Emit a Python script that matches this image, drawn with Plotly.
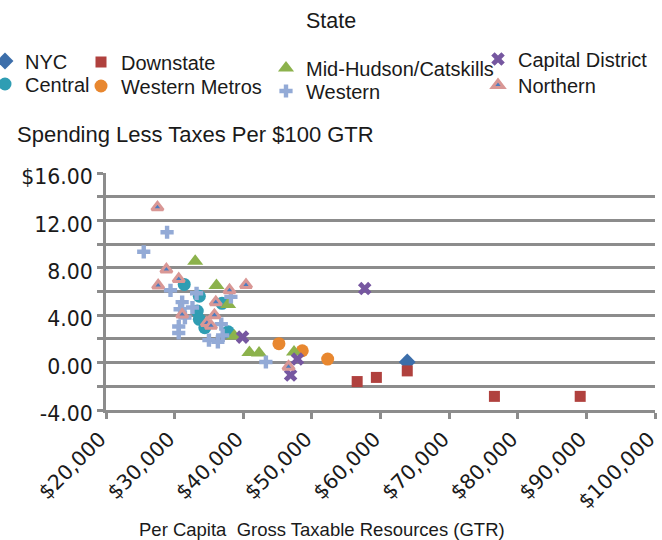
import plotly.graph_objects as go

# Per-capita gross taxable resources (x) and spending less taxes per $100 GTR (y), by region
nyc_gtr = [63900]
nyc_spend = [0.05]

downstate_gtr = [56600, 59400, 63900, 76600, 89100]
downstate_spend = [-1.6, -1.25, -0.7, -2.85, -2.85]

central_gtr = [31400, 33600, 36900, 33300, 33600, 34400, 37800]
central_spend = [6.6, 5.6, 5.0, 4.35, 3.65, 2.95, 2.6]

western_metros_gtr = [45200, 48600, 52300]
western_metros_spend = [1.6, 1.0, 0.3]

mid_hudson_gtr = [33000, 36100, 37800, 38700, 40900, 42300, 47400]
mid_hudson_spend = [8.55, 6.5, 4.9, 2.25, 0.85, 0.8, 0.9]

western_gtr = [28900, 25500, 29400, 33200, 38200, 31100, 30800, 32600,
               31500, 30600, 30600, 36800, 37000, 35000, 36300, 43300]
western_spend = [11.0, 9.35, 6.1, 5.85, 5.55, 5.1, 4.5, 4.65,
                 3.8, 3.05, 2.5, 3.25, 2.3, 1.9, 1.75, 0.05]

capital_gtr = [57700, 39900, 47900, 46900]
capital_spend = [6.25, 2.15, 0.3, -1.05]

northern_gtr = [27500, 28800, 30600, 27600, 40400, 38000, 36000,
                31100, 35800, 34700, 35300, 46600]
northern_spend = [13.1, 7.85, 7.05, 6.5, 6.55, 6.1, 5.1,
                  4.05, 4.0, 3.35, 3.1, -0.35]

y_tick_vals = [-4, 0, 4, 8, 12, 16]
y_tick_text = ["-4.00", "0.00", "4.00", "8.00", "12.00", "$16.00"]
x_tick_vals = [20000, 30000, 40000, 50000, 60000, 70000, 80000, 90000, 100000]
x_tick_text = ["$20,000", "$30,000", "$40,000", "$50,000", "$60,000",
               "$70,000", "$80,000", "$90,000", "$100,000"]

TEXT_FONT = "Liberation Sans, Arial, sans-serif"
NUM_FONT = "DejaVu Sans, sans-serif"
INK = "#1a1a1a"
GRID = "#8c8c8c"

# plot area in pixels: x 106..655, y 173..410
PLOT_L, PLOT_R, PLOT_T, PLOT_B = 106, 655, 173, 410


def to_paper(px=None, py=None):
    x = None if px is None else (px - PLOT_L) / (PLOT_R - PLOT_L)
    y = None if py is None else (PLOT_B - py) / (PLOT_B - PLOT_T)
    return x, y


fig = go.Figure()

# (name, xs, ys, symbol, fill, size, outline, legend id, legend left px, legend centre y px)
series = [
    ("NYC", nyc_gtr, nyc_spend, "diamond", "#3c6eaa", 13, None, "legend2", -15, 61),
    ("Central", central_gtr, central_spend, "circle", "#2f9db3", 13, None, "legend3", -15, 84),
    ("Downstate", downstate_gtr, downstate_spend, "square", "#b0413e", 11, None, "legend4", 81, 62),
    ("Western Metros", western_metros_gtr, western_metros_spend, "circle", "#e8872f", 13, None, "legend5", 81, 86),
    ("Mid-Hudson/Catskills", mid_hudson_gtr, mid_hudson_spend, "triangle-up", "#8cb24c", 14, None, "legend6", 266, 68),
    ("Western", western_gtr, western_spend, "cross", "#93aad6", 11, None, "legend7", 266, 91),
    ("Capital District", capital_gtr, capital_spend, "x", "#7657a0", 12, None, "legend8", 478, 59),
    ("Northern", northern_gtr, northern_spend, "triangle-up", "#4a7cc0", 10,
     dict(color="#d99795", width=3), "legend9", 478, 85),
]

legend_layout = {}
for name, xs, ys, symbol, fill, size, outline, leg, lx_px, ly_px in series:
    marker = dict(symbol=symbol, color=fill, size=size,
                  line=outline if outline else dict(width=0))
    fig.add_trace(go.Scatter(x=xs, y=ys, mode="markers", name=name,
                             marker=marker, legend=leg))
    lx, _ = to_paper(px=lx_px)
    _, ly = to_paper(py=ly_px)
    legend_layout[leg] = dict(
        x=lx, y=ly, xanchor="left", yanchor="middle",
        font=dict(family=TEXT_FONT, size=20, color=INK),
        bgcolor="rgba(0,0,0,0)", borderwidth=0,
        itemclick=False, itemdoubleclick=False,
    )

fig.update_layout(**legend_layout)

axis_common = dict(
    zeroline=False, showline=True, linecolor=GRID, linewidth=3,
    ticks="outside", ticklen=6, tickwidth=3, tickcolor=GRID,
    tickfont=dict(family=NUM_FONT, size=20.5, color=INK),
    automargin=False, ticklabeloverflow="allow",
)

title_x, _ = to_paper(px=15)
_, title_y = to_paper(py=134)
xt_x, _ = to_paper(px=322)
_, xt_y = to_paper(py=529)

fig.update_layout(
    width=662, height=540,
    margin=dict(l=PLOT_L, r=662 - PLOT_R, t=PLOT_T, b=540 - PLOT_B, autoexpand=False),
    paper_bgcolor="white", plot_bgcolor="white",
    font=dict(family=TEXT_FONT, size=20, color=INK),
    title=dict(text="State", x=0.5, xanchor="center", y=1 - 20 / 540, yanchor="middle",
               font=dict(family=TEXT_FONT, size=21.5, color=INK)),
    xaxis=dict(range=[20000, 100000], tickvals=x_tick_vals, ticktext=x_tick_text,
               tickangle=-45, showgrid=False, ticklabelshift=-6, **axis_common),
    yaxis=dict(range=[-4, 16], tickvals=y_tick_vals, ticktext=y_tick_text,
               showgrid=True, gridcolor=GRID, gridwidth=3, ticklabelshift=4,
               minor=dict(dtick=2, tick0=0, showgrid=True, gridcolor=GRID, gridwidth=3,
                          ticks="outside", ticklen=6, tickwidth=3, tickcolor=GRID),
               **axis_common),
    annotations=[
        dict(text="Spending Less Taxes Per $100 GTR", xref="paper", yref="paper",
             x=title_x, y=title_y, xanchor="left", yanchor="middle", showarrow=False,
             font=dict(family=TEXT_FONT, size=22, color=INK)),
        dict(text="Per Capita  Gross Taxable Resources (GTR)", xref="paper", yref="paper",
             x=xt_x, y=xt_y, xanchor="center", yanchor="middle", showarrow=False,
             font=dict(family=TEXT_FONT, size=18.5, color=INK)),
    ],
)

fig.write_html("out.html")
